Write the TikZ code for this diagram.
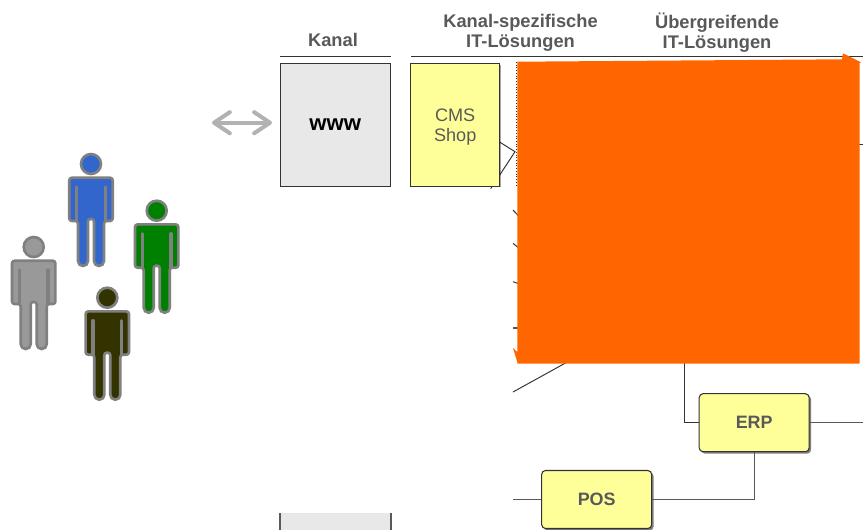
\documentclass[tikz,border=0pt]{standalone}
\usepackage{fontspec}
\setmainfont{Liberation Sans}
\usetikzlibrary{arrows.meta,shadows}
\definecolor{labelgray}{HTML}{595959}
\definecolor{linegray}{HTML}{333333}
\definecolor{boxyellow}{HTML}{FFFF99}
\definecolor{boxgray}{HTML}{E8E8E8}
\definecolor{patchorange}{HTML}{FF6600}
\definecolor{manblue}{HTML}{3366CC}
\definecolor{mangreen}{HTML}{008000}
\definecolor{mangray}{HTML}{999999}
\definecolor{mandark}{HTML}{333300}
\tikzset{
  headlabel/.style={align=center, inner sep=0pt, text=labelgray, font=\fontsize{10.4}{11.4}\selectfont\bfseries},
  kanalbox/.style={rectangle, fill=boxgray, draw=linegray, line width=0.6pt, minimum width=2.2cm, minimum height=2.45cm, inner sep=0pt},
  flatshadow/.style={drop shadow={shadow xshift=0.6pt, shadow yshift=-0.6pt, fill=black, opacity=0.35}},
  loesungbox/.style={rectangle, fill=boxyellow, draw=linegray, line width=0.6pt, minimum width=1.78cm, minimum height=2.45cm, inner sep=0pt, flatshadow},
  loesungtext/.style={align=center, inner sep=0pt, text=labelgray, font=\fontsize{10.3}{11.4}\selectfont},
  systembox/.style={rectangle, rounded corners=2.2pt, fill=boxyellow, draw=linegray, line width=0.6pt, minimum width=2.2cm, minimum height=1.16cm, inner sep=0pt, text=labelgray, font=\fontsize{10.2}{12}\selectfont\bfseries, drop shadow={shadow xshift=1.1pt, shadow yshift=-1.1pt, fill=black, opacity=0.5}},
  thinline/.style={draw=linegray, line width=0.55pt},
  grayline/.style={draw=labelgray, line width=0.6pt},
  person/.pic={
    \path[draw=gray, line width=1.5pt, fill=#1] (0,0) circle (10);
    \path[draw=gray, line width=1.5pt, fill=#1, line join=round]
      [rounded corners=1.5pt] (0,13.7) -- (21.7,13.7) -- (21.7,57) -- (13,57)
      [rounded corners=2.8pt] -- (13,102) -- (3,102)
      [rounded corners=1.4pt] -- (3,55) -- (-3,55)
      [rounded corners=2.8pt] -- (-3,102) -- (-13,102)
      [rounded corners=1.5pt] -- (-13,57) -- (-21.7,57) -- (-21.7,13.7) -- cycle;
    \draw[gray, line width=1.9pt, line cap=round] (-14.3,23) -- (-14.3,56);
    \draw[gray, line width=1.9pt, line cap=round] (14.3,23) -- (14.3,56);
  }
}
\begin{document}
\begin{tikzpicture}[x=0.02cm, y=-0.02cm, >=stealth]
  \clip (0,0) rectangle (863,529);
  \fill[white] (0,0) rectangle (863,529);

  \foreach \px/\py/\col in {91/164/manblue, 156.7/210.7/mangreen, 33.7/247/mangray, 107.3/297.7/mandark}
    \pic at (\px,\py) {person=\col};

  \node[headlabel] (kanalhead) at (333,40) {Kanal};
  \node[headlabel] (spezhead) at (520.5,32.5) {Kanal-spezifische\\IT-Lösungen};
  \node[headlabel] (uebergreifhead) at (717,32.5) {Übergreifende\\IT-Lösungen};

  \coordinate (kanalruleA) at (279.5,56);
  \coordinate (kanalruleB) at (391,56);
  \coordinate (spezruleA) at (411,56);
  \coordinate (spezruleB) at (863,56);
  \draw[thinline] (kanalruleA) -- (kanalruleB);
  \draw[thinline] (spezruleA) -- (spezruleB);

  % lines behind the shop box
  \coordinate (shopinner) at (490,136);
  \coordinate (shopbend) at (515,151.7);
  \coordinate (shoptick) at (490.7,188.7);
  \draw[thinline] (shopinner) -- (shopbend) -- (shoptick);

  \node[kanalbox] (www) at (335.3,125) {\fontsize{12.6}{14}\selectfont\bfseries www};
  \node[loesungbox, label={[name=shoptext, loesungtext, yshift=-1.1pt]center:{CMS\\Shop}}] (shop) at (455.2,125) {};

  \coordinate (pfeilA) at (212,122.7);
  \coordinate (pfeilB) at (272,122.7);
  \draw[{Straight Barb[round,length=9pt,width=12pt]}-{Straight Barb[round,length=9pt,width=12pt]}, draw=black!30, line width=2.3pt] (pfeilA) -- (pfeilB);

  \node[kanalbox, draw=none] (kanalunten) at (335.3,574.6) {};
  \draw[grayline, line width=0.9pt] (kanalunten.north west) -- (kanalunten.west);
  \draw[grayline, line width=0.9pt] (kanalunten.north east) -- (kanalunten.east);

  \node[systembox] (erp) at (754.2,422.7) {ERP};
  \node[systembox] (pos) at (596.7,499.5) {POS};

  \coordinate (erpup) at (684.3,350);
  \coordinate (erpright) at (863,422.7);
  \coordinate (posleft) at (513,499.5);
  \draw[thinline] (erp.west) -| (erpup);
  \draw[grayline] (erp.east) -- (erpright);
  \draw[grayline] (posleft) -- (pos.west);
  \draw[grayline] (pos.east) -| (erp.south);

  \coordinate (tickA) at (513,210);
  \coordinate (tickAend) at (520,217.5);
  \coordinate (tickB) at (513,243.3);
  \coordinate (tickBend) at (520,249);
  \coordinate (tickC) at (513,281.7);
  \coordinate (tickCend) at (520,284);
  \coordinate (tickD) at (513,328);
  \coordinate (tickDend) at (520,328);
  \coordinate (tickE) at (513,392);
  \coordinate (tickEend) at (570,360.5);
  \coordinate (tickF) at (850,144.3);
  \coordinate (tickFend) at (863,144.3);
  \draw[thinline] (tickA) -- (tickAend);
  \draw[thinline] (tickB) -- (tickBend);
  \draw[thinline] (tickC) -- (tickCend);
  \draw[grayline] (tickD) -- (tickDend);
  \draw[thinline] (tickE) -- (tickEend);
  \draw[thinline] (tickF) -- (tickFend);
  \draw[thinline, densely dotted] (516.9,62) -- (516.9,186);

  \fill[patchorange] (517.3,61.7) -- (842,59.3) -- (843,53.3) -- (861,62.3) -- (859.5,63)
    -- (859.5,363.7) -- (517.3,363.7) -- (517.3,362) -- (513,348) -- (517.3,352) -- cycle;
\end{tikzpicture}
\end{document}
